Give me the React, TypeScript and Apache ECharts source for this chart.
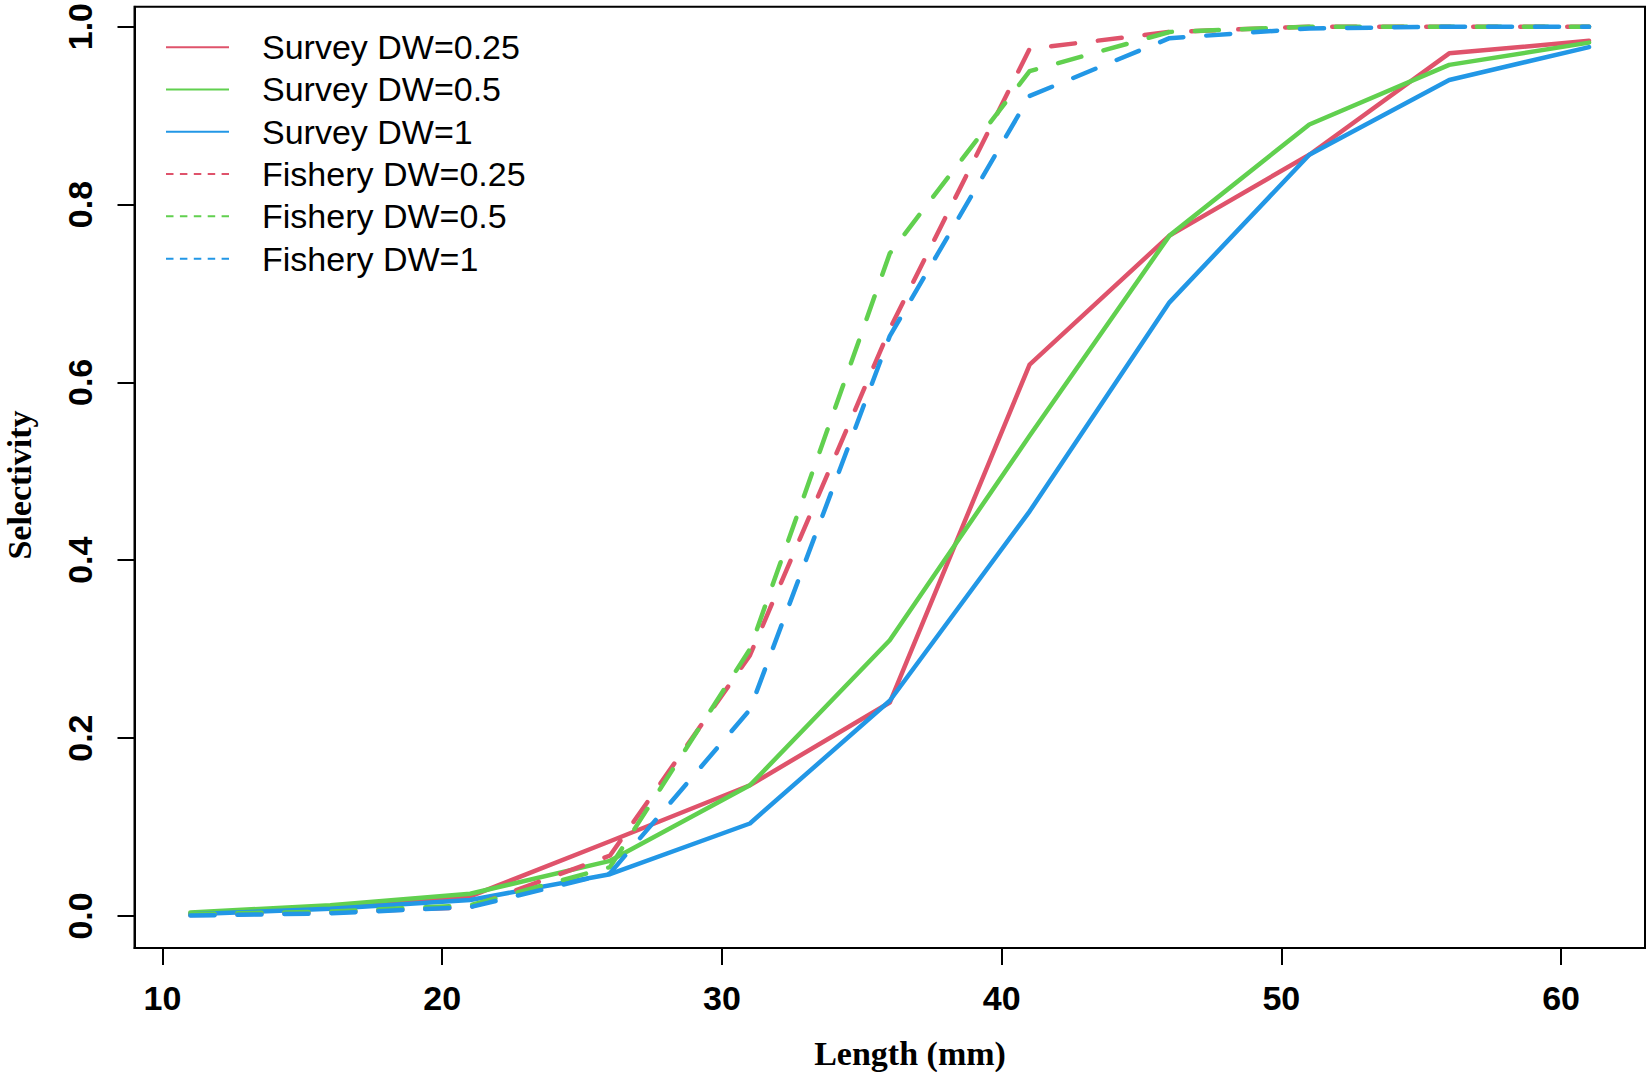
import React, { useEffect, useRef } from "react";
import * as echarts from "echarts";

// Length bins (mm)
const LENGTHS = [11, 16, 21, 26, 31, 36, 41, 46, 51, 56, 61];

// Selectivity values
const surveyDW025 = [0.003, 0.009, 0.022, 0.084, 0.147, 0.24, 0.62, 0.765, 0.856, 0.97, 0.984];
const surveyDW05 = [0.004, 0.012, 0.025, 0.062, 0.147, 0.31, 0.54, 0.765, 0.89, 0.957, 0.982];
const surveyDW1 = [0.002, 0.008, 0.018, 0.047, 0.104, 0.242, 0.455, 0.69, 0.856, 0.94, 0.977];
const fisheryDW025 = [0.001, 0.004, 0.01, 0.068, 0.293, 0.66, 0.975, 0.994, 1.0, 1.0, 1.0];
const fisheryDW05 = [0.002, 0.005, 0.012, 0.055, 0.3, 0.745, 0.95, 0.994, 1.0, 1.0, 1.0];
const fisheryDW1 = [0.0005, 0.003, 0.01, 0.048, 0.232, 0.652, 0.922, 0.987, 0.998, 1.0, 1.0];

const SERIES_NAMES = [
  "Survey DW=0.25",
  "Survey DW=0.5",
  "Survey DW=1",
  "Fishery DW=0.25",
  "Fishery DW=0.5",
  "Fishery DW=1",
];
const SERIES_VALUES = [surveyDW025, surveyDW05, surveyDW1, fisheryDW025, fisheryDW05, fisheryDW1];
const SERIES_DASHED = [false, false, false, true, true, true];

const X_TICKS = [10, 20, 30, 40, 50, 60];
const Y_TICKS = [0, 0.2, 0.4, 0.6, 0.8, 1.0];

const COLORS = ["#DF536B", "#61D04F", "#2297E6", "#DF536B", "#61D04F", "#2297E6"];

const SANS = '"Liberation Sans", Arial, sans-serif';
const SERIF = '"Liberation Serif", "Times New Roman", serif';

function buildOption() {
  const series = SERIES_NAMES.map((name, i) => ({
    name,
    type: "line",
    data: LENGTHS.map((x, j) => [x, SERIES_VALUES[i][j]]),
    symbol: "none",
    showSymbol: false,
    color: COLORS[i],
    lineStyle: {
      color: COLORS[i],
      width: 4.5,
      type: SERIES_DASHED[i] ? [24, 23] : "solid",
      cap: "round",
      join: "round",
    },
    emphasis: { disabled: true },
    silent: true,
    z: 2 + i,
  }));

  return {
    animation: false,
    backgroundColor: "#ffffff",
    grid: {
      left: 134.5,
      right: 5,
      top: 4,
      bottom: 124,
      show: true,
      borderColor: "#000",
      borderWidth: 2,
      backgroundColor: "transparent",
    },
    xAxis: {
      type: "value",
      min: 9,
      max: 63,
      axisLine: { show: true, onZero: false, lineStyle: { color: "#000", width: 2 } },
      axisTick: {
        show: true,
        inside: false,
        length: 17,
        customValues: X_TICKS,
        lineStyle: { color: "#000", width: 2 },
      },
      axisLabel: {
        show: true,
        customValues: X_TICKS,
        margin: 33,
        color: "#000",
        fontFamily: SANS,
        fontWeight: "bold",
        fontSize: 34,
        formatter: (v: number) => String(v),
      },
      splitLine: { show: false },
    },
    yAxis: {
      type: "value",
      min: -0.036,
      max: 1.0224,
      axisLine: { show: true, onZero: false, lineStyle: { color: "#000", width: 2 } },
      axisTick: {
        show: true,
        inside: false,
        length: 17,
        customValues: Y_TICKS,
        lineStyle: { color: "#000", width: 2 },
      },
      axisLabel: {
        show: true,
        customValues: Y_TICKS,
        rotate: 90,
        margin: 38,
        color: "#000",
        fontFamily: SANS,
        fontWeight: "bold",
        fontSize: 34,
        formatter: (v: number) => v.toFixed(1),
      },
      splitLine: { show: false },
    },
    legend: {
      show: true,
      orient: "vertical",
      left: 165,
      top: 26,
      padding: 0,
      itemWidth: 63,
      itemHeight: 14,
      itemGap: 0,
      selectedMode: false,
      textStyle: {
        fontFamily: SANS,
        fontSize: 34,
        color: "#000",
        lineHeight: 42.3,
        padding: [0, 0, 0, 28],
      },
      data: SERIES_NAMES.map((name, i) => ({
        name,
        itemStyle: { opacity: 0 },
        lineStyle: {
          color: COLORS[i],
          width: 2,
          type: SERIES_DASHED[i] ? [7.5, 6.4] : "solid",
          cap: "butt",
        },
      })),
    },
    graphic: [
      {
        type: "text",
        x: 910,
        y: 1053,
        silent: true,
        style: {
          text: "Length (mm)",
          fontFamily: SERIF,
          fontWeight: "bold",
          fontSize: 34,
          fill: "#000",
          textAlign: "center",
          textVerticalAlign: "middle",
        },
      },
      {
        type: "text",
        x: 19,
        y: 485,
        rotation: Math.PI / 2,
        silent: true,
        style: {
          text: "Selectivity",
          fontFamily: SERIF,
          fontWeight: "bold",
          fontSize: 34,
          fill: "#000",
          textAlign: "center",
          textVerticalAlign: "middle",
        },
      },
    ],
    series,
  };
}

export default function App() {
  const ref = useRef<HTMLDivElement>(null);
  useEffect(() => {
    if (!ref.current) return;
    const chart = echarts.init(ref.current, null, { renderer: "svg" });
    chart.setOption(buildOption() as any);
    return () => chart.dispose();
  }, []);
  return (
    <div
      ref={ref}
      style={{
        position: "absolute",
        left: 0,
        top: 0,
        width: 1650,
        height: 1072,
        background: "#ffffff",
      }}
    />
  );
}
